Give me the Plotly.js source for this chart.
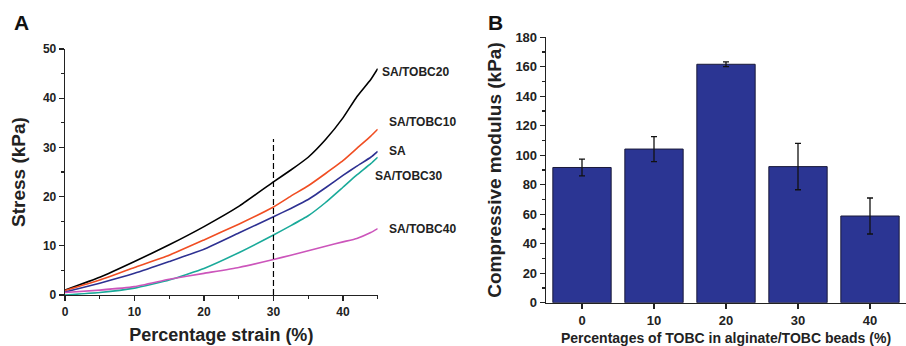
<!DOCTYPE html>
<html>
<head>
<meta charset="utf-8">
<script src="https://cdn.plot.ly/plotly-3.0.1.min.js"></script>
<style>html,body{margin:0;padding:0;background:#fff;}#chart{width:906px;height:346px;}</style>
</head>
<body>
<div id="chart"></div>
<script>
// Panel A: stress-strain curves
const strain = [0, 5, 10, 15, 20, 25, 30, 32.5, 35, 37.5, 40, 42, 44, 45];
const sa20 = [1.0, 3.6, 6.8, 10.2, 13.9, 18.0, 23.0, 25.4, 28.0, 31.6, 36.0, 40.3, 43.8, 46.0];
const sa10 = [0.9, 3.05, 5.6, 8.1, 11.2, 14.4, 17.9, 20.1, 22.2, 24.7, 27.3, 29.8, 32.3, 33.7];
const sa   = [0.6, 2.4, 4.4, 6.8, 9.3, 12.6, 15.9, 17.6, 19.4, 21.8, 24.3, 26.2, 28.0, 29.2];
const sa30 = [0.0, 0.5, 1.4, 3.05, 5.4, 8.6, 12.2, 14.1, 16.1, 18.8, 21.9, 24.4, 26.7, 28.0];
const sa40 = [0.5, 1.0, 1.7, 3.2, 4.4, 5.6, 7.2, 8.1, 9.0, 9.9, 10.8, 11.5, 12.7, 13.5];
const seriesNames = ['SA/TOBC20', 'SA/TOBC10', 'SA', 'SA/TOBC30', 'SA/TOBC40'];
const labelX = [45.3, 46.3, 46.4, 44.3, 46.3];
const labelY = [45.4, 35.2, 29.3, 24.2, 13.35];
const refStrain = [30, 30];
const refStress = [0, 31.7];

// Panel B: compressive modulus
const tobcPct = ['0', '10', '20', '30', '40'];
const modulus = [91.7, 104.2, 161.7, 92.3, 58.8];
const modulusErr = [5.7, 8.5, 1.6, 15.7, 12.2];

const colors = ['#000000', '#F04E23', '#2E3192', '#1AAA9A', '#CC55BB'];
const ys = [sa20, sa10, sa, sa30, sa40];
const F = 'Liberation Sans, Arial, sans-serif';

const xDomA = [65/906, 377.7/906], xRangeA = [0, 45];
const yDomA = [(346-295)/346, (346-49)/346], yRangeA = [0, 50];
const toPaperX = v => xDomA[0] + (v - xRangeA[0]) / (xRangeA[1] - xRangeA[0]) * (xDomA[1] - xDomA[0]);
const toPaperY = v => yDomA[0] + (v - yRangeA[0]) / (yRangeA[1] - yRangeA[0]) * (yDomA[1] - yDomA[0]);

const traces = ys.map((y, i) => ({
  x: strain, y: y, type: 'scatter', mode: 'lines', name: seriesNames[i],
  line: {color: colors[i], width: 1.6, shape: 'spline', smoothing: 0.4},
  xaxis: 'x', yaxis: 'y', hoverinfo: 'skip'
}));
traces.push({
  x: refStrain, y: refStress, type: 'scatter', mode: 'lines',
  line: {color: '#000', width: 1.2, dash: '6px,3px'}, xaxis: 'x', yaxis: 'y'
});
traces.push({
  x: tobcPct, y: modulus, type: 'bar', xaxis: 'x2', yaxis: 'y2',
  width: 0.81,
  marker: {color: '#2B3593', line: {color: '#1a1a3a', width: 1}},
  error_y: {type: 'data', array: modulusErr, visible: true, color: '#111', thickness: 1.3, width: 3}
});

const annotations = seriesNames.map((n, i) => ({
  x: toPaperX(labelX[i]), y: toPaperY(labelY[i]), xref: 'paper', yref: 'paper', text: '<b>' + n + '</b>', showarrow: false,
  xanchor: 'left', yanchor: 'middle', font: {family: F, size: 12, color: '#222'}
}));
annotations.push({x: 12/906, y: 1 - 22/346, xref: 'paper', yref: 'paper', text: '<b>A</b>', showarrow: false,
  xanchor: 'left', yanchor: 'middle', font: {family: F, size: 21, color: '#111'}});
annotations.push({x: 486/906, y: 1 - 22/346, xref: 'paper', yref: 'paper', text: '<b>B</b>', showarrow: false,
  xanchor: 'left', yanchor: 'middle', font: {family: F, size: 21, color: '#111'}});

const layout = {
  width: 906, height: 346,
  margin: {l: 0, r: 0, t: 0, b: 0},
  paper_bgcolor: '#fff', plot_bgcolor: '#fff',
  showlegend: false,
  font: {family: F, color: '#222'},
  xaxis: {
    domain: xDomA, range: xRangeA, showgrid: false, zeroline: false,
    showline: true, linecolor: '#222', linewidth: 1.3,
    ticks: 'outside', ticklen: 5, tickwidth: 1.2, tickcolor: '#222', dtick: 10, tick0: 0,
    minor: {dtick: 5, ticks: 'outside', ticklen: 3, tickcolor: '#222', showgrid: false},
    tickfont: {family: F, size: 12, color: '#222', weight: 'bold'},
    title: {text: '<b>Percentage strain (%)</b>', font: {family: F, size: 18, color: '#222'}, standoff: 10},
    automargin: false, fixedrange: true
  },
  yaxis: {
    domain: yDomA, range: yRangeA, showgrid: false, zeroline: false,
    showline: true, linecolor: '#222', linewidth: 1.3,
    ticks: 'outside', ticklen: 5, tickwidth: 1.2, tickcolor: '#222', dtick: 10, tick0: 0,
    minor: {dtick: 5, ticks: 'outside', ticklen: 3, tickcolor: '#222', showgrid: false},
    tickfont: {family: F, size: 12, color: '#222', weight: 'bold'},
    title: {text: '<b>Stress (kPa)</b>', font: {family: F, size: 19, color: '#222'}, standoff: 12},
    automargin: false, fixedrange: true
  },
  xaxis2: {
    domain: [546/906, 1], range: [-0.5, 4.5], type: 'category', showgrid: false, zeroline: false,
    showline: true, linecolor: '#222', linewidth: 1.3,
    ticks: 'outside', ticklen: 5, tickwidth: 1.2, tickcolor: '#222',
    tickfont: {family: F, size: 13, color: '#222', weight: 'bold'},
    title: {text: '<b>Percentages of TOBC in alginate/TOBC beads (%)</b>', font: {family: F, size: 14, color: '#222'}, standoff: 6},
    anchor: 'y2', automargin: false, fixedrange: true
  },
  yaxis2: {
    domain: [(346-302.7)/346, (346-37.3)/346], range: [0, 180], showgrid: false, zeroline: false,
    showline: true, linecolor: '#222', linewidth: 1.3,
    ticks: 'outside', ticklen: 5, tickwidth: 1.2, tickcolor: '#222', dtick: 20, tick0: 0,
    minor: {dtick: 10, ticks: 'outside', ticklen: 3, tickcolor: '#222', showgrid: false},
    tickfont: {family: F, size: 13, color: '#222', weight: 'bold'},
    title: {text: '<b>Compressive modulus (kPa)</b>', font: {family: F, size: 19, color: '#222'}, standoff: 8},
    anchor: 'x2', automargin: false, fixedrange: true
  },
  annotations: annotations
};

Plotly.newPlot('chart', traces, layout, {displayModeBar: false, staticPlot: true});
</script>
</body>
</html>
